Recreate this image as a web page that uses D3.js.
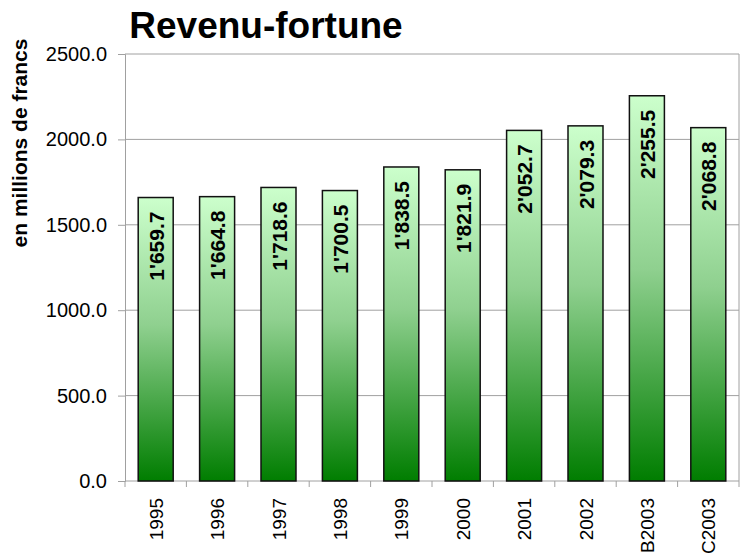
<!DOCTYPE html>
<html>
<head>
<meta charset="utf-8">
<script src="https://cdn.jsdelivr.net/npm/d3@7"></script>
<style>
  body { margin: 0; background: #fff; }
  text { font-family: "Liberation Sans", Arial, sans-serif; }
</style>
</head>
<body>
<div id="chart"></div>
<script>
// chart data
var years = ["1995", "1996", "1997", "1998", "1999", "2000", "2001", "2002", "B2003", "C2003"];
var revenus = [1659.7, 1664.8, 1718.6, 1700.5, 1838.5, 1821.9, 2052.7, 2079.3, 2255.5, 2068.8];
var yTicks = [0, 500, 1000, 1500, 2000, 2500];

function draw() {
    var w = 744;
    var h = 560;
    var left = 125, right = 739, top = 54, bottom = 481;

    var svg = d3.select("#chart")
        .append("svg")
        .attr("width", w)
        .attr("height", h);

    // gradient for bars, light at top, dark green at bottom
    var grad = svg.append("defs").append("linearGradient")
        .attr("id", "barGrad")
        .attr("x1", 0).attr("y1", 0)
        .attr("x2", 0).attr("y2", 1);
    grad.append("stop").attr("offset", "0%").attr("stop-color", "#ccffcc");
    grad.append("stop").attr("offset", "45%").attr("stop-color", "#8fd08f");
    grad.append("stop").attr("offset", "100%").attr("stop-color", "#007d00");

    var x = d3.scaleBand()
        .domain(years)
        .range([left, right])
        .paddingInner(0.43)
        .paddingOuter(0.215);

    var y = d3.scaleLinear()
        .domain([0, 2500])
        .range([bottom, top]);

    // gridlines
    svg.append("g")
        .selectAll("line")
        .data(yTicks.slice(1))
        .enter()
        .append("line")
        .attr("x1", left)
        .attr("x2", right)
        .attr("y1", function(d) { return y(d); })
        .attr("y2", function(d) { return y(d); })
        .attr("stroke", "#a0a0a0")
        .attr("stroke-width", 1);

    // right border
    svg.append("line")
        .attr("x1", right).attr("x2", right)
        .attr("y1", top).attr("y2", bottom)
        .attr("stroke", "#a0a0a0");

    // y axis
    var yAxis = svg.append("g")
        .attr("transform", "translate(" + left + ",0)")
        .call(d3.axisLeft(y).tickValues(yTicks).tickSize(7).tickPadding(11)
            .tickFormat(d3.format(".1f")));
    yAxis.selectAll("path, line").attr("stroke", "#a0a0a0");
    yAxis.selectAll("text")
        .attr("font-size", 20)
        .attr("fill", "#000")
        .style("font-family", "Liberation Sans, Arial, sans-serif");

    // x axis, ticks between categories
    var xAxisG = svg.append("g")
        .attr("transform", "translate(0," + bottom + ")");
    xAxisG.append("line")
        .attr("x1", left).attr("x2", right)
        .attr("stroke", "#a0a0a0");
    xAxisG.selectAll(".tk")
        .data(d3.range(years.length + 1))
        .enter()
        .append("line")
        .attr("x1", function(i) { return left + i * (right - left) / years.length; })
        .attr("x2", function(i) { return left + i * (right - left) / years.length; })
        .attr("y1", 0).attr("y2", 6)
        .attr("stroke", "#a0a0a0");
    xAxisG.selectAll(".lbl")
        .data(years)
        .enter()
        .append("text")
        .attr("transform", function(d) {
            return "translate(" + (x(d) + x.bandwidth() / 2 + 7) + ",17) rotate(-90)";
        })
        .attr("text-anchor", "end")
        .attr("font-size", 19)
        .text(function(d) { return d; });

    // bars
    svg.append("g")
        .selectAll("rect")
        .data(revenus)
        .enter()
        .append("rect")
        .attr("x", function(d, i) { return x(years[i]); })
        .attr("y", function(d) { return y(d); })
        .attr("width", x.bandwidth())
        .attr("height", function(d) { return bottom - y(d); })
        .attr("fill", "url(#barGrad)")
        .attr("stroke", "#111")
        .attr("stroke-width", 1.5);

    // value labels inside bar top
    var fmt = function(v) {
        var s = v.toFixed(1);
        var parts = s.split(".");
        var ip = parts[0];
        if (ip.length > 3) ip = ip.slice(0, ip.length - 3) + "'" + ip.slice(-3);
        return ip + "." + parts[1];
    };
    svg.append("g")
        .selectAll("text")
        .data(revenus)
        .enter()
        .append("text")
        .attr("transform", function(d, i) {
            return "translate(" + (x(years[i]) + x.bandwidth() / 2 + 8) + "," + (y(d) + 14) + ") rotate(-90)";
        })
        .attr("text-anchor", "end")
        .attr("font-size", 21)
        .attr("font-weight", "bold")
        .text(function(d) { return fmt(d); });

    // title
    svg.append("text")
        .attr("x", 266)
        .attr("y", 38)
        .attr("text-anchor", "middle")
        .attr("font-size", 37)
        .attr("font-weight", "bold")
        .text("Revenu-fortune");

    // y axis title
    svg.append("text")
        .attr("transform", "translate(27,143) rotate(-90)")
        .attr("text-anchor", "middle")
        .attr("font-size", 21)
        .attr("font-weight", "bold")
        .text("en millions de francs");
}

window.onload = draw;
</script>
</body>
</html>
